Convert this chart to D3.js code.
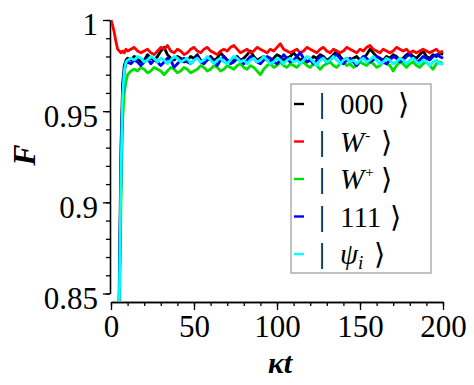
<!DOCTYPE html>
<html>
<head>
<meta charset="utf-8">
<script src="https://cdn.jsdelivr.net/npm/d3@7"></script>
<style>
  body { margin: 0; background: #fff; }
  svg { display: block; }
  .axis path, .axis line { stroke: #000; stroke-width: 1.3; }
  .axis text { font-family: "Liberation Serif", Tinos, "Times New Roman", Times, "DejaVu Serif", serif; font-size: 31px; fill: #000; }
</style>
</head>
<body>
<div id="chart"></div>
<script>
// time grid (kt): fine steps during the initial rise, then every 2
var kt = [0, 1, 2, 3, 4, 5, 6, 7, 8, 9, 10];
for (var t = 12; t <= 200; t += 2) kt.push(t);

var seriesNames = ["000", "W-", "W+", "111", "psi"];
var seriesColors = ["#000000", "#ff0000", "#00e000", "#0000ff", "#00ffff"];

var f000 = [0.50, 0.55, 0.62, 0.70, 0.78, 0.855, 0.93, 0.965, 0.975, 0.978, 0.979,
  0.978,0.980,0.979,0.977,0.978,0.981,0.979,0.978,0.980,0.983,
  0.985,0.981,0.979,0.978,0.980,0.979,0.977,0.978,0.980,0.979,
  0.981,0.978,0.977,0.979,0.980,0.978,0.979,0.982,0.980,0.978,
  0.977,0.979,0.980,0.978,0.979,0.981,0.983,0.980,0.978,0.979,
  0.980,0.978,0.977,0.979,0.981,0.980,0.978,0.979,0.980,0.982,
  0.980,0.978,0.979,0.977,0.978,0.980,0.979,0.981,0.980,0.978,
  0.979,0.981,0.983,0.980,0.978,0.979,0.977,0.979,0.980,0.978,
  0.979,0.981,0.984,0.982,0.980,0.979,0.978,0.980,0.979,0.981,
  0.980,0.978,0.979,0.981,0.982,0.980,0.979,0.981,0.983,0.980,
  0.979,0.981,0.980,0.982,0.981];

var fWminus = [1.000, 0.997, 0.993, 0.988, 0.984, 0.983, 0.982, 0.983, 0.982, 0.984, 0.983,
  0.984,0.985,0.983,0.982,0.983,0.984,0.982,0.981,0.983,0.985,
  0.984,0.986,0.983,0.982,0.984,0.983,0.981,0.982,0.984,0.985,
  0.983,0.982,0.984,0.985,0.983,0.982,0.981,0.983,0.984,0.983,
  0.985,0.986,0.984,0.982,0.983,0.984,0.982,0.983,0.985,0.984,
  0.983,0.982,0.984,0.983,0.985,0.987,0.984,0.983,0.982,0.983,
  0.984,0.982,0.983,0.985,0.984,0.983,0.982,0.984,0.985,0.983,
  0.982,0.984,0.983,0.982,0.983,0.985,0.984,0.983,0.982,0.984,
  0.983,0.985,0.986,0.984,0.983,0.982,0.984,0.983,0.982,0.983,
  0.985,0.984,0.983,0.984,0.982,0.983,0.982,0.983,0.984,0.983,
  0.982,0.983,0.984,0.982,0.983];

var fWplus = [0.45, 0.50, 0.58, 0.66, 0.74, 0.835, 0.90, 0.945, 0.960, 0.966, 0.970,
  0.972,0.973,0.972,0.974,0.973,0.971,0.972,0.974,0.973,0.972,
  0.970,0.972,0.974,0.973,0.971,0.972,0.974,0.973,0.971,0.972,
  0.973,0.975,0.974,0.972,0.973,0.975,0.974,0.972,0.973,0.975,
  0.974,0.973,0.975,0.976,0.974,0.973,0.975,0.974,0.972,0.970,
  0.973,0.975,0.976,0.974,0.975,0.977,0.975,0.974,0.976,0.975,
  0.974,0.976,0.977,0.975,0.974,0.976,0.975,0.973,0.975,0.976,
  0.977,0.975,0.974,0.976,0.977,0.975,0.976,0.974,0.975,0.977,
  0.976,0.975,0.977,0.976,0.974,0.975,0.977,0.976,0.975,0.972,
  0.975,0.977,0.976,0.974,0.976,0.977,0.975,0.974,0.976,0.977,
  0.975,0.973,0.976,0.977,0.976];

var f111 = [0.48, 0.53, 0.60, 0.68, 0.76, 0.848, 0.918, 0.958, 0.972, 0.976, 0.977,
  0.976,0.978,0.977,0.975,0.977,0.979,0.976,0.978,0.977,0.975,
  0.977,0.979,0.978,0.974,0.976,0.978,0.979,0.977,0.976,0.978,
  0.980,0.977,0.976,0.978,0.979,0.977,0.975,0.978,0.980,0.978,
  0.976,0.977,0.979,0.978,0.976,0.978,0.980,0.979,0.977,0.976,
  0.978,0.980,0.979,0.977,0.976,0.978,0.981,0.979,0.977,0.978,
  0.980,0.982,0.979,0.977,0.978,0.976,0.978,0.980,0.979,0.977,
  0.978,0.980,0.981,0.979,0.976,0.978,0.979,0.977,0.975,0.978,
  0.980,0.979,0.977,0.978,0.980,0.979,0.977,0.976,0.978,0.980,
  0.979,0.977,0.978,0.980,0.981,0.979,0.977,0.978,0.980,0.979,
  0.978,0.980,0.981,0.980,0.979];

var fPsi = [0.47, 0.52, 0.59, 0.67, 0.75, 0.845, 0.915, 0.958, 0.972, 0.977, 0.978,
  0.979,0.978,0.980,0.979,0.977,0.978,0.980,0.979,0.977,0.979,
  0.978,0.976,0.978,0.980,0.979,0.977,0.978,0.979,0.976,0.978,
  0.979,0.977,0.978,0.980,0.978,0.976,0.978,0.979,0.977,0.976,
  0.978,0.980,0.979,0.977,0.978,0.976,0.978,0.979,0.977,0.978,
  0.980,0.978,0.976,0.977,0.979,0.978,0.976,0.978,0.979,0.977,
  0.978,0.976,0.978,0.980,0.979,0.977,0.975,0.978,0.979,0.977,
  0.978,0.980,0.978,0.976,0.978,0.979,0.977,0.978,0.976,0.978,
  0.979,0.977,0.978,0.980,0.978,0.976,0.977,0.979,0.978,0.976,
  0.977,0.979,0.978,0.976,0.978,0.979,0.977,0.976,0.978,0.977,
  0.975,0.977,0.978,0.976,0.976];

var seriesValues = [f000, fWminus, fWplus, f111, fPsi];

var xMajor = [0, 50, 100, 150, 200];
var xMinor = d3.range(0, 201, 10);
var yMajor = [0.85, 0.9, 0.95, 1];
var yMinor = d3.range(85, 101).map(function(d) { return d / 100; });

var width = 474, height = 385;
var serif = "'Liberation Serif', Tinos, 'Times New Roman', Times, 'DejaVu Serif', serif";

var xScale = d3.scaleLinear().domain([0, 200]).range([111, 443]);
var yScale = d3.scaleLinear().domain([0.85, 1]).range([293.5, 20]);

var svg = d3.select("#chart").append("svg")
  .attr("width", width)
  .attr("height", height);

svg.append("clipPath")
  .attr("id", "plotClip")
  .append("rect")
  .attr("x", 111).attr("y", 14)
  .attr("width", 340).attr("height", 287);

// y axis: minor then major ticks
svg.append("g")
  .attr("class", "axis")
  .attr("transform", "translate(110,0)")
  .call(d3.axisLeft(yScale).tickValues(yMinor).tickSize(4).tickSizeOuter(0).tickFormat(""));

var yAx = svg.append("g")
  .attr("class", "axis")
  .attr("transform", "translate(110,0)")
  .call(d3.axisLeft(yScale).tickValues(yMajor).tickSize(7).tickSizeOuter(0).tickPadding(5)
    .tickFormat(function(d) { return d === 1 ? "1" : String(d); }));
yAx.selectAll("text").attr("dy", "0.48em");

// x axis
svg.append("g")
  .attr("class", "axis")
  .attr("transform", "translate(0,302)")
  .call(d3.axisBottom(xScale).tickValues(xMinor).tickSize(4).tickSizeOuter(0).tickFormat(""));

svg.append("g")
  .attr("class", "axis")
  .attr("transform", "translate(0,302)")
  .call(d3.axisBottom(xScale).tickValues(xMajor).tickSize(8).tickSizeOuter(0).tickPadding(5));

svg.selectAll(".axis").attr("font-family", null);
svg.selectAll(".axis .domain").attr("fill", "none");

// lines
var line = d3.line()
  .x(function(d, i) { return xScale(kt[i]); })
  .y(function(d) { return yScale(d); });

svg.append("g")
  .attr("clip-path", "url(#plotClip)")
  .selectAll("path")
  .data(seriesValues)
  .enter().append("path")
  .attr("d", line)
  .attr("fill", "none")
  .attr("stroke", function(d, i) { return seriesColors[i]; })
  .attr("stroke-width", 2.8)
  .attr("stroke-linejoin", "round");

// axis titles
svg.append("text")
  .attr("transform", "translate(35,155) rotate(-90)")
  .attr("text-anchor", "middle")
  .style("font-family", serif)
  .style("font-size", "32px")
  .style("font-weight", "bold")
  .style("font-style", "italic")
  .text("F");

svg.append("text")
  .attr("x", 280).attr("y", 373)
  .attr("text-anchor", "middle")
  .style("font-family", serif)
  .style("font-size", "30px")
  .style("font-weight", "bold")
  .style("font-style", "italic")
  .text("κt");

// legend
var legend = svg.append("g");
legend.append("rect")
  .attr("x", 291).attr("y", 84)
  .attr("width", 140).attr("height", 189)
  .attr("fill", "#fff")
  .attr("stroke", "#999")
  .attr("stroke-width", 1.2);

var rowY = [104, 141.5, 179, 216.5, 254];

seriesNames.forEach(function(name, i) {
  var cy = rowY[i];
  legend.append("line")
    .attr("x1", 294).attr("x2", 304)
    .attr("y1", cy).attr("y2", cy)
    .attr("stroke", seriesColors[i])
    .attr("stroke-width", 2.4);

  legend.append("text")
    .attr("x", 322).attr("y", cy + 9)
    .attr("text-anchor", "middle")
    .style("font-family", serif)
    .style("font-size", "30px")
    .text("|");

  var txt = legend.append("text")
    .attr("x", 340).attr("y", cy + 10)
    .style("font-family", serif)
    .style("font-size", "29px");

  var bx;
  if (name === "000" || name === "111") {
    txt.append("tspan").text(name);
    bx = name === "000" ? 398 : 390;
  } else if (name === "W-" || name === "W+") {
    txt.append("tspan").style("font-style", "italic").text("W");
    txt.append("tspan").attr("dx", 1).attr("dy", -12).style("font-size", "15px")
      .text(name === "W-" ? "-" : "+");
    bx = 381;
  } else {
    txt.append("tspan").style("font-style", "italic").text("ψ");
    txt.append("tspan").attr("dy", 5).style("font-size", "19px").style("font-style", "italic").text("i");
    bx = 374;
  }

  legend.append("text")
    .attr("x", bx).attr("y", cy + 10)
    .style("font-family", serif)
    .style("font-size", "29px")
    .text("⟩");
});
</script>
</body>
</html>
